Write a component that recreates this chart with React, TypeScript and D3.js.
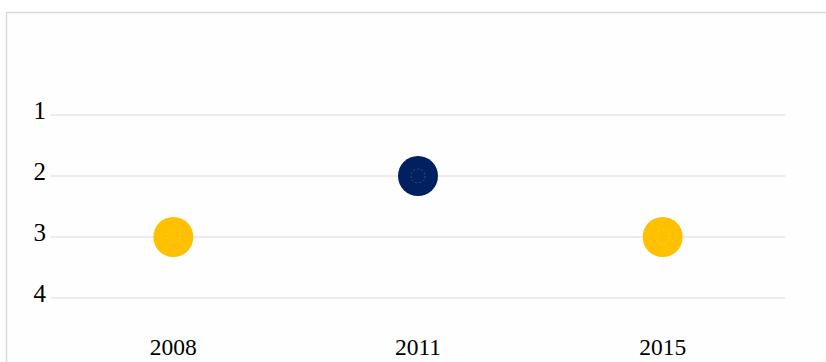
import React from "react";
import * as d3 from "d3";

const categories = ["2008", "2011", "2015"];
const values = [3, 2, 3];
const colors = ["#FFC000", "#002060", "#FFC000"];
const yTicks = [1, 2, 3, 4];

export default function App() {
  const W = 826, H = 362;
  const left = 51, right = 785, top = 115, bottom = 298;
  const x = d3.scaleBand<string>().domain(categories).range([left, right]);
  const y = d3.scaleLinear().domain([1, 4]).range([top, bottom]);
  const font = "'Liberation Serif', 'DejaVu Serif', serif";
  return (
    <svg width={W} height={H} style={{ position: "absolute", left: 0, top: 0 }}>
      <rect x={0} y={0} width={W} height={H} fill="#ffffff" />
      <rect x={6.5} y={12.5} width={W + 10} height={H + 10} fill="#fefefe" stroke="#d9d9d9" strokeWidth={1.5} />
      {yTicks.map((t) => (
        <g key={t}>
          <line x1={left} x2={right} y1={y(t)} y2={y(t)} stroke="#d9d9d9" strokeWidth={1} />
          <text x={46} y={y(t)} dy="-0.05em" textAnchor="end" dominantBaseline="middle" fontFamily={font} fontSize={25} fill="#000">
            {t}
          </text>
        </g>
      ))}
      {categories.map((c) => (
        <text key={c} x={x(c)! + x.bandwidth() / 2} y={355} textAnchor="middle" fontFamily={font} fontSize={23.5} fill="#000">
          {c}
        </text>
      ))}
      {categories.map((c, i) => (
        <g key={c}>
          <circle cx={x(c)! + x.bandwidth() / 2} cy={y(values[i])} r={20} fill={colors[i]} />
          <circle cx={x(c)! + x.bandwidth() / 2} cy={y(values[i])} r={7} fill="none" stroke="#ffffff" strokeOpacity={0.25} strokeDasharray="2,2" strokeWidth={0.8} />
        </g>
      ))}
    </svg>
  );
}
